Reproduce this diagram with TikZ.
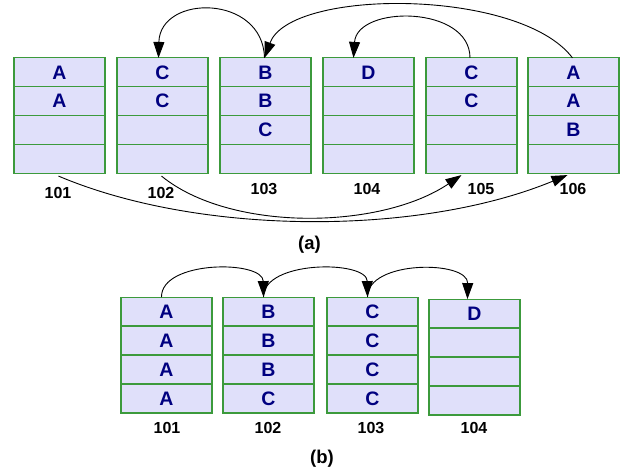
\documentclass[tikz,border=0pt]{standalone}
\usepackage{fontspec}
\setmainfont{Liberation Sans}
\usetikzlibrary{arrows.meta,calc}
\definecolor{cellfill}{HTML}{E0E0FA}
\definecolor{cellline}{HTML}{3C9A3C}
\definecolor{celltext}{HTML}{000080}
\begin{document}
\begin{tikzpicture}[x=1pt,y=-1pt,
  cell/.style={rectangle,draw=cellline,fill=cellfill,line width=1.1pt,
    minimum width=91pt,minimum height=28.9pt,inner sep=0pt,outer sep=0pt,
    text=celltext,font=\bfseries\fontsize{19.5}{21}\selectfont},
  lbl/.style={font=\bfseries\fontsize{16}{18}\selectfont,inner sep=0pt},
  captext/.style={font=\bfseries\fontsize{18.5}{20}\selectfont,inner sep=0pt},
  arr/.style={-{Triangle[length=16pt,width=11pt]},line width=0.9pt}]
\useasboundingbox (0,0) rectangle (621,472);
% (a) row
\foreach \n/\x/\cells in {1/14/{A,A,{},{}},2/117/{C,C,{},{}},3/220/{B,B,C,{}},
  4/323/{D,{},{},{}},5/426/{C,C,{},{}},6/528/{A,A,B,{}}}{
  \foreach \t [count=\i] in \cells {
    \node[cell] (a\n-\i) at ({\x+45.5},{58+28.75*(\i-0.5)}) {\t};
  }
}
% (b) row
\foreach \n/\x/\y/\cells in {1/121/297/{A,A,A,A},2/223/297/{B,B,B,C},
  3/327/297/{C,C,C,C},4/429/299/{D,{},{},{}}}{
  \foreach \t [count=\i] in \cells {
    \node[cell] (b\n-\i) at ({\x+45.5},{\y+29*(\i-0.5)}) {\t};
  }
}
% labels (a)
\node[lbl] (la1) at (58,193) {101};
\node[lbl] (la2) at (161,193) {102};
\node[lbl] (la3) at (264,189) {103};
\node[lbl] (la4) at (367,189) {104};
\node[lbl] (la5) at (481,189) {105};
\node[lbl] (la6) at (573,189) {106};
\node[captext] (capa) at (309.5,245) {(a)};
% labels (b)
\node[lbl] (lb1) at (167,428) {101};
\node[lbl] (lb2) at (268,428) {102};
\node[lbl] (lb3) at (371,428) {103};
\node[lbl] (lb4) at (474,428) {104};
\node[captext] (capb) at (322,459) {(b)};
% arrows (a) top
\draw[arr] ([xshift=-1pt]a3-1.north) .. controls (263,-6) and (160,-6) .. ([xshift=-4pt]a2-1.north);
\draw[arr] ([xshift=-1.5pt]a5-1.north) .. controls (470,5) and (357,5) .. ([xshift=-15pt]a4-1.north);
\draw[arr] ([xshift=-1pt]a6-1.north) .. controls (520,-12) and (290,-12) .. ([xshift=-1pt]a3-1.north);
% arrows (a) bottom
\draw[arr] ([xshift=-1pt,yshift=-3pt]a1-4.south) .. controls (200,236) and (420,236) .. ([xshift=-6pt,yshift=-2pt]a6-4.south);
\draw[arr] ([xshift=-1pt,yshift=-3pt]a2-4.south) .. controls (230,232) and (380,230) .. ([xshift=-10pt,yshift=-2pt]a5-4.south);
% arrows (b)
\draw[arr] ([xshift=-5pt]b1-1.north) .. controls (161,260) and (263,260) .. ([xshift=-5pt]b2-1.north);
\draw[arr] ([xshift=-5pt]b2-1.north) .. controls (263,260) and (367,260) .. ([xshift=-5pt]b3-1.north);
\draw[arr] ([xshift=-5pt]b3-1.north) .. controls (367,260) and (468,260) .. ([xshift=-7pt]b4-1.north);
\end{tikzpicture}
\end{document}
